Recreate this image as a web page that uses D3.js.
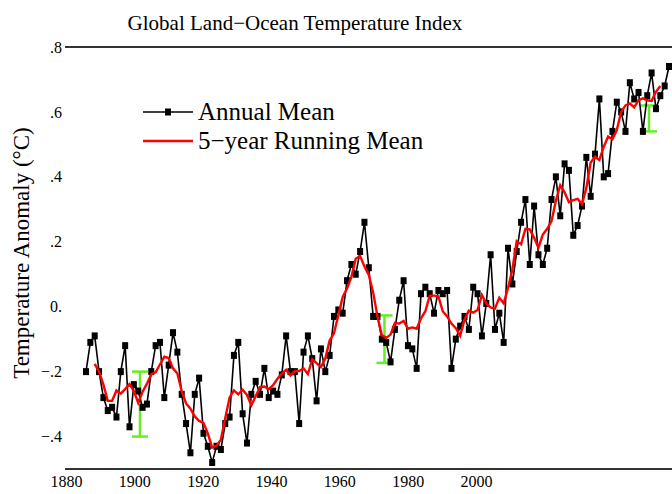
<!DOCTYPE html>
<html>
<head>
<meta charset="utf-8">
<script src="https://cdn.jsdelivr.net/npm/d3@7/dist/d3.min.js"></script>
<style>
  html, body { margin: 0; padding: 0; background: #fff; }
  svg text { font-family: "Liberation Serif", "Times New Roman", serif; fill: #000; }
</style>
</head>
<body>
<div id="chart"></div>
<script>
// Data
// ------------------------------

var firstYear = 1880;

// annual mean anomaly, 1880 - 2014 (deg C)
var annualMean = [
  -0.20, -0.11, -0.09, -0.20, -0.28, -0.32, -0.31, -0.34, -0.20, -0.12,
  -0.37, -0.24, -0.26, -0.31, -0.30, -0.20, -0.12, -0.11, -0.28, -0.18,
  -0.08, -0.14, -0.27, -0.36, -0.45, -0.27, -0.22, -0.39, -0.43, -0.48,
  -0.43, -0.44, -0.36, -0.34, -0.15, -0.11, -0.33, -0.42, -0.27, -0.23,
  -0.27, -0.19, -0.28, -0.26, -0.27, -0.21, -0.09, -0.20, -0.20, -0.36,
  -0.14, -0.09, -0.16, -0.29, -0.13, -0.20, -0.15, -0.03, -0.01, -0.02,
   0.08,  0.13,  0.10,  0.17,  0.26,  0.12, -0.03, -0.03, -0.10, -0.11,
  -0.17, -0.07,  0.02,  0.08, -0.12, -0.13, -0.19,  0.04,  0.06,  0.04,
  -0.02,  0.05,  0.04,  0.05, -0.19, -0.10, -0.06, -0.03, -0.07,  0.06,
   0.04, -0.09,  0.01,  0.16, -0.07, -0.02, -0.11,  0.18,  0.07,  0.17,
   0.26,  0.33,  0.13,  0.31,  0.16,  0.13,  0.18,  0.33,  0.40,  0.28,
   0.44,  0.42,  0.22,  0.25,  0.31,  0.46,  0.34,  0.47,  0.64,  0.40,
   0.41,  0.54,  0.63,  0.60,  0.54,  0.69,  0.64,  0.66,  0.54,  0.65,
   0.72,  0.61,  0.65,  0.68,  0.74
];

// 5-year running mean, centred, 1882 - 2012
var runFirstYear = 1882;
var runningMean = [
  -0.176, -0.200, -0.240, -0.290, -0.290, -0.258, -0.268, -0.254, -0.238, -0.260,
  -0.296, -0.262, -0.238, -0.208, -0.202, -0.178, -0.154, -0.158, -0.190, -0.206,
  -0.260, -0.298, -0.314, -0.338, -0.352, -0.358, -0.390, -0.434, -0.428, -0.410,
  -0.344, -0.280, -0.258, -0.270, -0.256, -0.272, -0.304, -0.276, -0.248, -0.246,
  -0.254, -0.242, -0.222, -0.206, -0.194, -0.212, -0.198, -0.198, -0.190, -0.208,
  -0.162, -0.174, -0.186, -0.160, -0.104, -0.082, -0.026,  0.030,  0.056,  0.092,
   0.148,  0.156,  0.124,  0.098,  0.044, -0.030, -0.088, -0.096, -0.086, -0.050,
  -0.052, -0.044, -0.068, -0.064, -0.068, -0.036, -0.014,  0.034,  0.034,  0.032,
  -0.014, -0.030, -0.052, -0.066, -0.090, -0.040, -0.012, -0.018, -0.010,  0.036,
   0.010, -0.002, -0.006,  0.028,  0.010,  0.058,  0.114,  0.202,  0.192,  0.240,
   0.238,  0.212,  0.182,  0.222,  0.240,  0.264,  0.326,  0.374,  0.352,  0.322,
   0.328,  0.332,  0.316,  0.366,  0.444,  0.462,  0.452,  0.492,  0.524,  0.516,
   0.544,  0.600,  0.620,  0.626,  0.614,  0.636,  0.642,  0.636,  0.634,  0.662,
   0.680
];

// uncertainty bars (green)
var errYears = [1892.4, 1948.6, 2009.4];
var errCentre = [-0.30, -0.10, 0.58];
var errHalf = [0.10, 0.073, 0.04];

var yTicks = [-0.4, -0.2, 0, 0.2, 0.4, 0.6, 0.8];
var yTickLabels = ["\u2212.4", "\u2212.2", "0.", ".2", ".4", ".6", ".8"];
var xTickYears = [1880, 1900, 1920, 1940, 1960, 1980, 2000];
var xTickLabels = ["1880", "1900", "1920", "1940", "1960", "1980", "2000"];

var legendLabels = ["Annual Mean", "5\u2212year Running Mean"];

// Setup
// ------------------------------

var width = 672, height = 494;

var svg = d3.select("#chart").append("svg")
    .attr("width", width)
    .attr("height", height);

svg.append("rect")
    .attr("width", width)
    .attr("height", height)
    .attr("fill", "#fff");

var x = d3.scaleLinear().domain([1880, 2014]).range([86, 669]);
var y = d3.scaleLinear().domain([-0.5, 0.8]).range([469, 47]);
// the year labels under the plot sit on their own spacing
var xLab = d3.scaleLinear().domain([1880, 2000]).range([66, 476]);

var annual = annualMean.map(function(v, i) { return { year: firstYear + i, value: v }; });
var running = runningMean.map(function(v, i) { return { year: runFirstYear + i, value: v }; });

// Frame lines
// ------------------------------

svg.append("line")
    .attr("x1", 65).attr("x2", width)
    .attr("y1", y(0.8)).attr("y2", y(0.8))
    .attr("stroke", "#333").attr("stroke-width", 2);

svg.append("line")
    .attr("x1", 65).attr("x2", width)
    .attr("y1", y(-0.5)).attr("y2", y(-0.5))
    .attr("stroke", "#333").attr("stroke-width", 2);

// Axes
// ------------------------------

var yAxis = d3.axisLeft(y)
    .tickValues(yTicks)
    .tickSize(0)
    .tickPadding(0)
    .tickFormat(function(d, i) { return yTickLabels[i]; });

var gy = svg.append("g")
    .attr("transform", "translate(62,0)")
    .call(yAxis);
gy.select(".domain").remove();
gy.selectAll("text")
    .style("font-size", "16px")
    .attr("font-family", null);

var xAxis = d3.axisBottom(xLab)
    .tickValues(xTickYears)
    .tickSize(0)
    .tickPadding(0)
    .tickFormat(function(d, i) { return xTickLabels[i]; });

var gx = svg.append("g")
    .attr("transform", "translate(0,476)")
    .call(xAxis);
gx.select(".domain").remove();
gx.selectAll("text")
    .style("font-size", "16px")
    .attr("font-family", null);

// Titles
// ------------------------------

svg.append("text")
    .attr("x", 295)
    .attr("y", 30)
    .attr("text-anchor", "middle")
    .style("font-size", "21px")
    .text("Global Land\u2212Ocean Temperature Index");

svg.append("text")
    .attr("transform", "translate(29,253) rotate(-90)")
    .attr("text-anchor", "middle")
    .style("font-size", "23px")
    .text("Temperature Anomaly (\u00b0C)");

// Uncertainty bars
// ------------------------------

var green = "#66ee22";
var errs = svg.append("g").attr("class", "errs");
errYears.forEach(function(yr, i) {
  var cx = x(yr),
      top = y(errCentre[i] + errHalf[i]),
      bot = y(errCentre[i] - errHalf[i]);
  errs.append("line").attr("x1", cx).attr("x2", cx).attr("y1", top).attr("y2", bot)
      .attr("stroke", green).attr("stroke-width", 2.5);
  errs.append("line").attr("x1", cx - 8).attr("x2", cx + 8).attr("y1", top).attr("y2", top)
      .attr("stroke", green).attr("stroke-width", 2.5);
  errs.append("line").attr("x1", cx - 8).attr("x2", cx + 8).attr("y1", bot).attr("y2", bot)
      .attr("stroke", green).attr("stroke-width", 2.5);
});

// Annual mean
// ------------------------------

var line = d3.line()
    .x(function(d) { return x(d.year); })
    .y(function(d) { return y(d.value); });

svg.append("path")
    .datum(annual)
    .attr("fill", "none")
    .attr("stroke", "#000")
    .attr("stroke-width", 1.6)
    .attr("d", line);

svg.append("g").selectAll("rect")
    .data(annual)
    .enter().append("rect")
    .attr("x", function(d) { return x(d.year) - 3; })
    .attr("y", function(d) { return y(d.value) - 3.5; })
    .attr("width", 6)
    .attr("height", 7)
    .attr("fill", "#000");

// Running mean
// ------------------------------

svg.append("path")
    .datum(running)
    .attr("fill", "none")
    .attr("stroke", "#ff0000")
    .attr("stroke-width", 2.4)
    .attr("d", line);

// Legend
// ------------------------------

var legend = svg.append("g");
legend.append("line").attr("x1", 143).attr("x2", 193).attr("y1", 112).attr("y2", 112)
    .attr("stroke", "#000").attr("stroke-width", 1.6);
legend.append("rect").attr("x", 165).attr("y", 108.5).attr("width", 6).attr("height", 7)
    .attr("fill", "#000");
legend.append("line").attr("x1", 143).attr("x2", 193).attr("y1", 141).attr("y2", 141)
    .attr("stroke", "#ff0000").attr("stroke-width", 2.4);

legend.selectAll("text")
    .data(legendLabels)
    .enter().append("text")
    .attr("x", 198)
    .attr("y", function(d, i) { return 120 + i * 29; })
    .style("font-size", "25px")
    .text(function(d) { return d; });
</script>
</body>
</html>
